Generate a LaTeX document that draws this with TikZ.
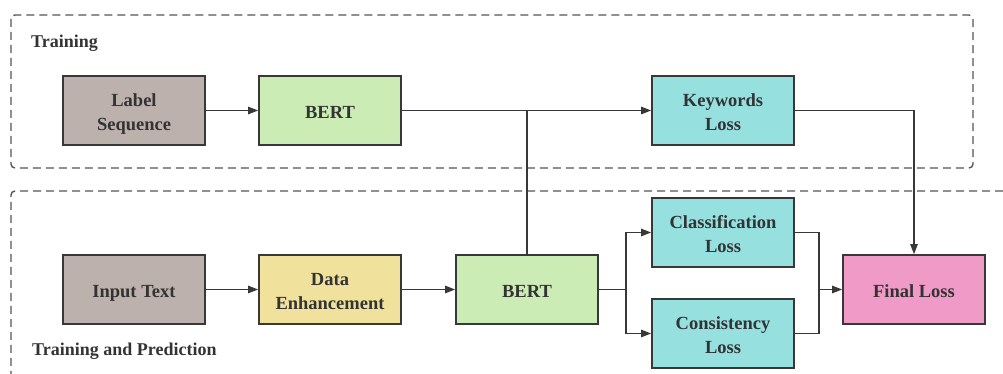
\documentclass[tikz,border=0pt]{standalone}
\usepackage{fontspec}
\setmainfont{Liberation Serif}
\usetikzlibrary{arrows.meta}
\definecolor{txt}{HTML}{333333}
\definecolor{edge}{HTML}{383838}
\definecolor{brownish}{HTML}{BDB1AD}
\definecolor{greenish}{HTML}{CBECB4}
\definecolor{cyanish}{HTML}{96E0E0}
\definecolor{yellowish}{HTML}{F0E29C}
\definecolor{pinkish}{HTML}{F09AC8}
\definecolor{dashc}{HTML}{555555}
\newcommand{\bt}[1]{\raisebox{-3pt}[\height][\depth]{\begin{tabular}{@{}c@{}}#1\end{tabular}}}
\tikzset{
  blk/.style={draw=edge, line width=1.8pt, minimum width=142pt, minimum height=69pt,
    inner sep=0pt, text=txt,
    font=\bfseries\fontsize{18.5}{24}\selectfont},
  conn/.style={draw=edge, line width=1.2pt},
  arr/.style={conn, -{Triangle[length=10pt,width=7.5pt]}},
  grp/.style={draw=dashc, line width=1.4pt, dash pattern=on 8pt off 5pt},
  ttl/.style={anchor=west, text=txt, inner sep=0pt, font=\bfseries\fontsize{18}{22}\selectfont},
}
\begin{document}
\begin{tikzpicture}[x=1pt,y=-1pt]
\useasboundingbox[fill=white] (0,0) rectangle (1003,374);
% group boxes
\draw[grp, rounded corners=4pt] (11,15) rectangle (973,168);
\draw[grp, rounded corners=4pt] (1003,191) -- (11,191) -- (11,380);
\node[ttl] (t1) at (31,43) {Training};
\node[ttl] (t2) at (32,351) {Training and Prediction};
% top row
\node[blk, fill=brownish] (ls) at (134,110.5) {\bt{Label\\Sequence}};
\node[blk, fill=greenish] (b1) at (330,110.5) {\bt{BERT}};
\node[blk, fill=cyanish] (kw) at (723,110.5) {\bt{Keywords\\Loss}};
% bottom row
\node[blk, fill=brownish] (it) at (134,289.5) {\bt{Input Text}};
\node[blk, fill=yellowish] (de) at (330,289.5) {\bt{Data\\Enhancement}};
\node[blk, fill=greenish] (b2) at (527,289.5) {\bt{BERT}};
\node[blk, fill=cyanish] (cl) at (723,232.5) {\bt{Classification\\Loss}};
\node[blk, fill=cyanish] (cs) at (723,333.5) {\bt{Consistency\\Loss}};
\node[blk, fill=pinkish] (fl) at (914,289.5) {\bt{Final Loss}};
% connectors
\draw[arr] (ls) -- (b1);
\draw[arr] (b1) -- (kw);
\draw[conn] (b2.north) -- (b2.north |- b1.east);
\draw[arr] (kw.east) -- (kw.east -| fl.north) -- (fl.north);
\draw[arr] (it) -- (de);
\draw[arr] (de) -- (b2);
\coordinate (sp) at ([xshift=27pt]b2.east);
\draw[conn] (b2.east) -- (sp);
\draw[arr] (sp) |- (cl.west);
\draw[arr] (sp) |- (cs.west);
\coordinate (jn) at ([xshift=24pt]fl.west -| cl.east);
\draw[conn] (cl.east) -| (jn);
\draw[conn] (cs.east) -| (jn);
\draw[arr] (jn) -- (fl.west);
\end{tikzpicture}
\end{document}
